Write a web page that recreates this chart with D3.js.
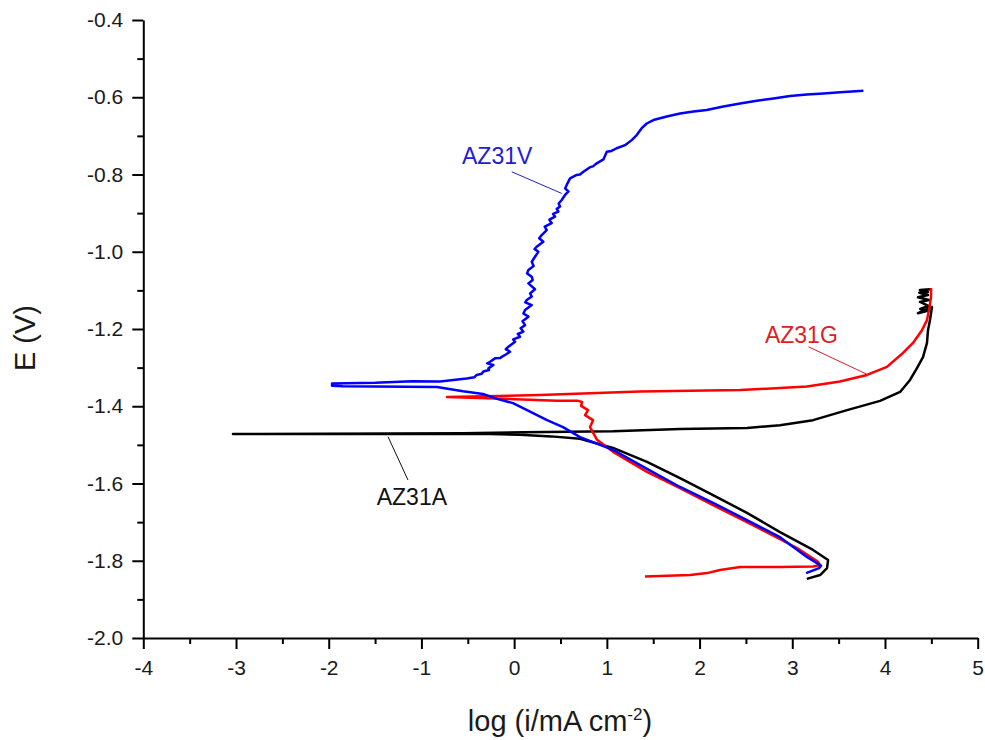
<!DOCTYPE html>
<html>
<head>
<meta charset="utf-8">
<script src="https://cdn.jsdelivr.net/npm/d3@7"></script>
<style>
  html, body { margin: 0; padding: 0; background: #fff; }
  svg { display: block; }
  text { font-family: "Liberation Sans", Arial, sans-serif; }
</style>
</head>
<body>
<svg id="chart" width="985" height="740"></svg>
<script>
// Potentiodynamic polarization curves: [log(i / mA cm^-2), E / V]
const AZ31A = [
  [3.157,-1.847],[3.300,-1.837],[3.375,-1.819],[3.386,-1.798],[3.224,-1.772],
  [2.868,-1.726],[2.511,-1.676],[2.145,-1.630],[1.789,-1.586],[1.433,-1.544],
  [1.067,-1.508],[0.711,-1.484],[0.400,-1.478],[0.063,-1.474],[-0.260,-1.472],
  [-0.551,-1.472],[-3.033,-1.472],[-0.551,-1.470],[0.096,-1.467],[1.067,-1.465],
  [1.789,-1.459],[2.511,-1.456],[2.867,-1.449],[3.224,-1.436],[3.591,-1.410],
  [3.947,-1.386],[4.163,-1.363],[4.270,-1.332],[4.345,-1.301],[4.410,-1.273],
  [4.453,-1.236],[4.464,-1.203],[4.485,-1.177],[4.507,-1.143],[4.356,-1.159],
  [4.470,-1.152],[4.380,-1.148],[4.470,-1.140],[4.377,-1.130],[4.474,-1.125],
  [4.356,-1.118],[4.464,-1.112],[4.370,-1.106],[4.464,-1.104],[4.377,-1.099],
  [4.485,-1.097]
];

const AZ31G = [
  [1.412,-1.841],[1.897,-1.837],[2.080,-1.832],[2.221,-1.824],[2.437,-1.816],
  [2.868,-1.816],[3.224,-1.815],[3.300,-1.811],[3.278,-1.803],[3.051,-1.767],
  [2.511,-1.700],[2.145,-1.656],[1.789,-1.612],[1.433,-1.570],[1.250,-1.544],
  [1.067,-1.518],[0.894,-1.487],[0.819,-1.454],[0.851,-1.436],[0.765,-1.423],
  [0.797,-1.410],[0.722,-1.399],[0.733,-1.389],[0.690,-1.386],[0.463,-1.386],
  [-0.292,-1.379],[-0.724,-1.376],[0.279,-1.371],[1.358,-1.362],[2.437,-1.358],
  [3.158,-1.349],[3.514,-1.336],[3.805,-1.319],[4.021,-1.298],[4.194,-1.262],
  [4.302,-1.236],[4.399,-1.203],[4.453,-1.177],[4.475,-1.151],[4.497,-1.117],
  [4.497,-1.094]
];

const AZ31V = [
  [3.149,-1.832],[3.289,-1.819],[3.310,-1.813],[3.158,-1.790],[2.867,-1.739],
  [2.511,-1.695],[2.145,-1.650],[1.789,-1.609],[1.433,-1.562],[1.066,-1.513],
  [0.711,-1.480],[0.527,-1.454],[0.355,-1.436],[-0.012,-1.392],[-0.184,-1.381],
  [-0.336,-1.368],[-0.551,-1.361],[-0.832,-1.350],[-1.850,-1.348],[-1.964,-1.347],
  [-1.964,-1.341],[-1.500,-1.339],[-1.100,-1.335],[-0.799,-1.336],[-0.512,-1.328],
  [-0.430,-1.325],[-0.404,-1.319],[-0.350,-1.316],[-0.332,-1.310],[-0.270,-1.306],
  [-0.278,-1.302],[-0.224,-1.293],[-0.290,-1.289],[-0.260,-1.285],[-0.206,-1.276],
  [-0.150,-1.275],[-0.134,-1.272],[-0.090,-1.266],[-0.044,-1.259],[-0.090,-1.252],
  [-0.062,-1.246],[0.010,-1.233],[-0.010,-1.227],[0.064,-1.220],[0.040,-1.213],
  [0.100,-1.207],[0.070,-1.198],[0.118,-1.190],[0.090,-1.180],[0.154,-1.168],
  [0.100,-1.160],[0.118,-1.151],[0.190,-1.138],[0.120,-1.131],[0.136,-1.125],
  [0.190,-1.116],[0.172,-1.108],[0.225,-1.097],[0.154,-1.082],[0.200,-1.073],
  [0.190,-1.065],[0.140,-1.056],[0.154,-1.047],[0.210,-1.037],[0.190,-1.026],
  [0.225,-1.013],[0.261,-1.000],[0.220,-0.993],[0.243,-0.987],[0.315,-0.974],
  [0.270,-0.965],[0.297,-0.957],[0.351,-0.944],[0.330,-0.935],[0.405,-0.926],
  [0.380,-0.917],[0.441,-0.909],[0.420,-0.902],[0.477,-0.896],[0.460,-0.889],
  [0.495,-0.883],[0.480,-0.875],[0.513,-0.866],[0.549,-0.853],[0.585,-0.844],
  [0.550,-0.836],[0.567,-0.827],[0.603,-0.810],[0.675,-0.801],[0.710,-0.800],
  [0.747,-0.793],[0.819,-0.781],[0.850,-0.779],[0.891,-0.771],[0.963,-0.761],
  [0.999,-0.741],[1.050,-0.739],[1.106,-0.732],[1.196,-0.724],[1.268,-0.711],
  [1.322,-0.698],[1.376,-0.680],[1.430,-0.668],[1.502,-0.659],[1.646,-0.650],
  [1.790,-0.642],[1.934,-0.637],[2.077,-0.633],[2.257,-0.624],[2.437,-0.616],
  [2.617,-0.609],[2.797,-0.603],[2.976,-0.597],[3.156,-0.593],[3.336,-0.590],
  [3.516,-0.587],[3.767,-0.583]
];

const xTickValues = [-4,-3,-2,-1,0,1,2,3,4,5];
const yTickValues = [-0.4,-0.6,-0.8,-1.0,-1.2,-1.4,-1.6,-1.8,-2.0];

const seriesNames  = ["AZ31A", "AZ31G", "AZ31V"];
const seriesColors = ["#000000", "#ff0000", "#0000ff"];
const labelColors  = ["#111111", "#e02020", "#2020d0"];
// label anchor (start of text baseline) and leader line ends, in data units
const labelAnchors = [[-1.482,-1.656],[2.705,-1.236],[-0.562,-0.773]];
const leaderFrom   = [[-1.145,-1.591],[3.174,-1.246],[-0.026,-0.793]];
const leaderTo     = [[-1.360,-1.479],[3.821,-1.319],[0.513,-0.849]];

const svg = d3.select("#chart");
const margin = {left: 143.3, right: 7.3, top: 20, bottom: 102};
const W = 985, H = 740;

const x = d3.scaleLinear().domain([-4, 5]).range([margin.left, W - margin.right]);
const y = d3.scaleLinear().domain([-2.0, -0.4]).range([H - margin.bottom, margin.top]);

const hyphen = s => s.replace("\u2212", "-");

// minor ticks
const xMinor = d3.range(-3.5, 5, 1);
const yMinor = d3.range(-1.9, -0.4, 0.2);

const gx = svg.append("g").attr("transform", `translate(0,${y(-2.0)})`);
gx.call(d3.axisBottom(x).tickValues(xMinor).tickSize(6).tickFormat(""));
gx.selectAll(".tick line").attr("stroke-width", 2);
gx.select(".domain").remove();
const gx2 = svg.append("g").attr("transform", `translate(0,${y(-2.0)})`);
gx2.call(d3.axisBottom(x).tickValues(xTickValues).tickSize(11).tickPadding(11)
  .tickFormat(d => hyphen(d3.format("d")(d))).tickSizeOuter(0));
gx2.select(".domain").attr("stroke-width", 2);
gx2.selectAll(".tick line").attr("stroke-width", 2);
gx2.selectAll(".tick text").attr("font-size", 21).attr("fill", "#1a1a1a")
  .attr("font-family", "'Liberation Sans', Arial, sans-serif");

const gy = svg.append("g").attr("transform", `translate(${x(-4)},0)`);
gy.call(d3.axisLeft(y).tickValues(yMinor).tickSize(6).tickFormat(""));
gy.selectAll(".tick line").attr("stroke-width", 2);
gy.select(".domain").remove();
const gy2 = svg.append("g").attr("transform", `translate(${x(-4)},0)`);
gy2.call(d3.axisLeft(y).tickValues(yTickValues).tickSize(11).tickPadding(9)
  .tickFormat(d => hyphen(d3.format(".1f")(d))).tickSizeOuter(0));
gy2.select(".domain").attr("stroke-width", 2);
gy2.selectAll(".tick line").attr("stroke-width", 2);
gy2.selectAll(".tick text").attr("font-size", 21).attr("fill", "#1a1a1a")
  .attr("font-family", "'Liberation Sans', Arial, sans-serif");

// curves
const line = d3.line().x(d => x(d[0])).y(d => y(d[1]));
const allSeries = [AZ31A, AZ31G, AZ31V];
allSeries.forEach((s, i) => {
  svg.append("path").datum(s)
    .attr("d", line)
    .attr("fill", "none")
    .attr("stroke", seriesColors[i])
    .attr("stroke-width", 2.5)
    .attr("stroke-linejoin", "round");
});

// series labels with leader lines
seriesNames.forEach((name, i) => {
  svg.append("line")
    .attr("x1", x(leaderFrom[i][0])).attr("y1", y(leaderFrom[i][1]))
    .attr("x2", x(leaderTo[i][0])).attr("y2", y(leaderTo[i][1]))
    .attr("stroke", labelColors[i]).attr("stroke-width", 1);
  svg.append("text")
    .attr("x", x(labelAnchors[i][0])).attr("y", y(labelAnchors[i][1]))
    .attr("font-size", 23).attr("fill", labelColors[i])
    .text(name);
});

// axis titles
const xt = svg.append("text")
  .attr("x", 560).attr("y", 731)
  .attr("text-anchor", "middle")
  .attr("font-size", 29).attr("fill", "#1a1a1a");
xt.append("tspan").text("log (i/mA cm");
xt.append("tspan").attr("dy", -11).attr("font-size", 17).text("-2");
xt.append("tspan").attr("dy", 11).text(")");

svg.append("text")
  .attr("transform", "translate(35,338) rotate(-90)")
  .attr("text-anchor", "middle")
  .attr("font-size", 29).attr("fill", "#1a1a1a")
  .text("E (V)");
</script>
</body>
</html>
